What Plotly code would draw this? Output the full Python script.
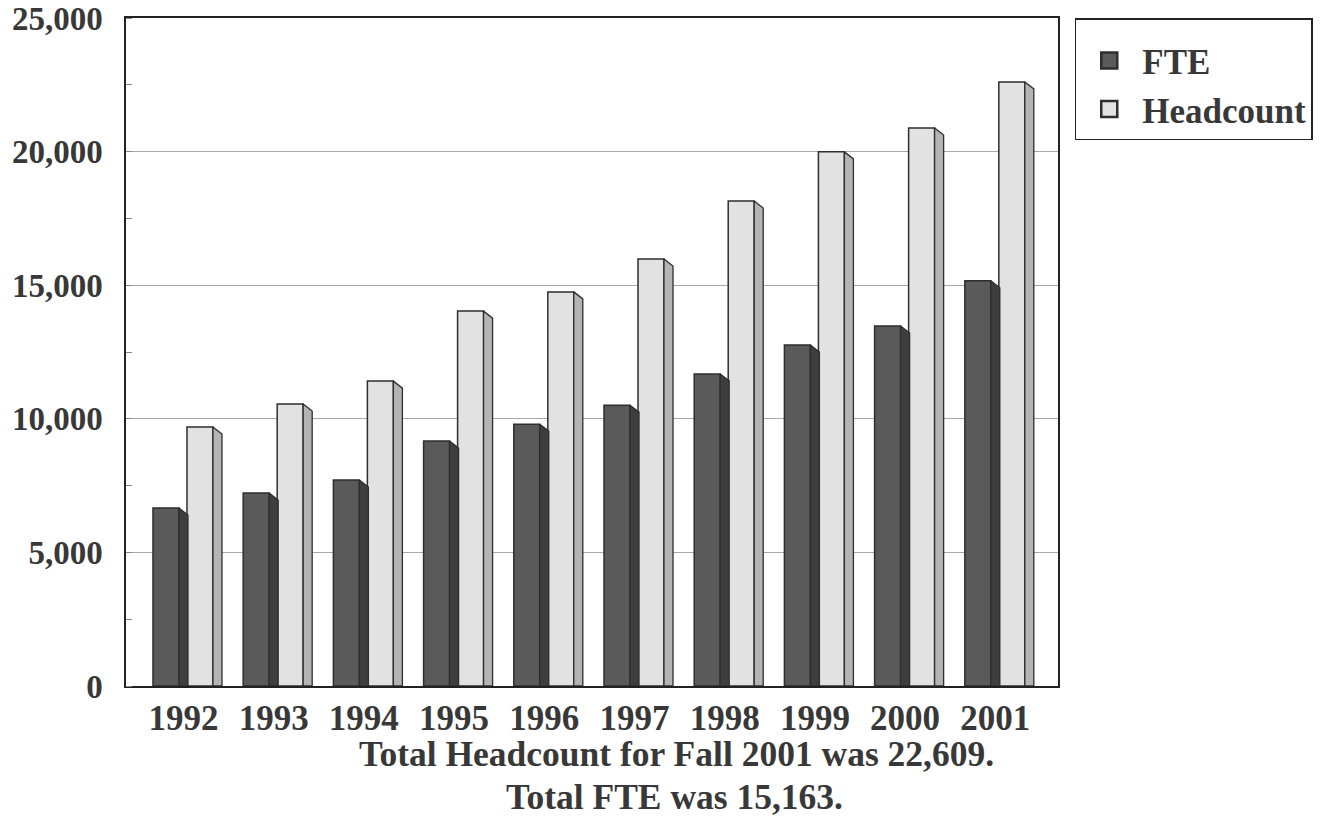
import plotly.graph_objects as go

years = ["1992", "1993", "1994", "1995", "1996", "1997", "1998", "1999", "2000", "2001"]
fte = [6660, 7220, 7710, 9170, 9800, 10510, 11680, 12760, 13470, 15163]
headcount = [9690, 10550, 11410, 14030, 14750, 15980, 18150, 19990, 20880, 22609]
y_ticks = [0, 5000, 10000, 15000, 20000, 25000]
y_ticklabels = ["0", "5,000", "10,000", "15,000", "20,000", "25,000"]
note_lines = ["Total Headcount for Fall 2001 was 22,609.", "Total FTE was 15,163."]

FONT = "Liberation Serif, Times New Roman, serif"
TXT = "#383838"
FTE_FRONT, FTE_SIDE = "#5a5a5a", "#3e3e3e"
HC_FRONT, HC_SIDE = "#e2e2e2", "#b4b4b4"
EDGE = "#2e2e2e"

xs = list(range(len(years)))
W = 0.288      # front face width (category units)
DX = 0.10      # depth width
DY = 262       # depth drop (data units)
FTE_OFF = -0.338
HC_OFF = 0.039

fig = go.Figure()


def add_series(vals, off, front, side):
    fig.add_trace(go.Bar(
        x=xs, y=vals, width=W, offset=off,
        marker=dict(color=front, line=dict(color=EDGE, width=1.5)),
        showlegend=False, hoverinfo="skip"))
    px, py = [], []
    for i, v in zip(xs, vals):
        xr = i + off + W
        px += [xr, xr, xr + DX, xr + DX, xr, None]
        py += [0, v, v - DY, 0, 0, None]
    fig.add_trace(go.Scatter(
        x=px, y=py, mode="lines", fill="toself", fillcolor=side,
        line=dict(color=EDGE, width=1.3), showlegend=False, hoverinfo="skip"))


add_series(fte, FTE_OFF, FTE_FRONT, FTE_SIDE)
add_series(headcount, HC_OFF, HC_FRONT, HC_SIDE)

# legend entries
for name, col in [("FTE", FTE_FRONT), ("Headcount", HC_FRONT)]:
    fig.add_trace(go.Scatter(
        x=[None], y=[None], mode="markers", name=name,
        marker=dict(symbol="square", size=16, color=col, line=dict(color=EDGE, width=2.5))))

fig.update_layout(
    width=1334, height=822,
    margin=dict(l=126, r=276, t=18, b=136, autoexpand=False),
    paper_bgcolor="white", plot_bgcolor="white",
    font=dict(family=FONT, color=TXT),
    legend=dict(
        x=1.018, y=1.0, xanchor="left", yanchor="top",
        bordercolor="#222", borderwidth=1.5, bgcolor="white",
        font=dict(family=FONT, size=35, color=TXT, weight="bold"),
        title=dict(text=" ", font=dict(size=9)),
        tracegroupgap=0, itemwidth=56),
    xaxis=dict(
        range=[-0.637, 9.695], tickmode="array", tickvals=xs, ticktext=years,
        showgrid=False, zeroline=False, showline=True, linecolor="#222", linewidth=1.5,
        mirror=True, ticks="", ticklabelstandoff=0, automargin=False,
        tickfont=dict(family=FONT, size=35, color=TXT, weight="bold")),
    yaxis=dict(
        range=[0, 25000], tickmode="array", tickvals=y_ticks, ticktext=y_ticklabels,
        showgrid=True, gridcolor="#a8a8a8", gridwidth=1, zeroline=False,
        showline=True, linecolor="#222", linewidth=1.5, mirror=True, ticks="",
        ticklabelstandoff=15, automargin=False, ticklabeloverflow="allow",
        minor=dict(dtick=2500, ticks="inside", ticklen=6, tickcolor="#888", showgrid=False),
        tickfont=dict(family=FONT, size=33, color=TXT, weight="bold")),
)

fig.add_annotation(text=note_lines[0], xref="paper", yref="paper", x=0.591, y=-0.102,
                   xanchor="center", yanchor="middle", showarrow=False,
                   font=dict(family=FONT, size=35.5, color=TXT, weight="bold"))
fig.add_annotation(text=note_lines[1], xref="paper", yref="paper", x=0.589, y=-0.166,
                   xanchor="center", yanchor="middle", showarrow=False,
                   font=dict(family=FONT, size=35.5, color=TXT, weight="bold"))

fig.write_html("out.html", config={"displayModeBar": False},
               post_script="document.body.style.margin='0px';")
